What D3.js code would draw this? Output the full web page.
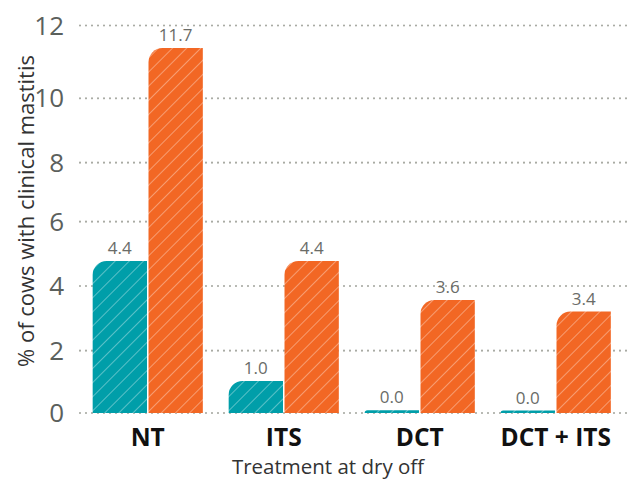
<!DOCTYPE html>
<html>
<head>
<meta charset="utf-8">
<script src="https://cdn.jsdelivr.net/npm/d3@7"></script>
<style>
  html, body { margin: 0; padding: 0; background: #fff; }
  svg { display: block; }
</style>
</head>
<body>
<svg id="chart" width="632" height="480"></svg>
<script>
const categories = ["NT", "ITS", "DCT", "DCT + ITS"];
const seriesNames = ["teal", "orange"];
const tealValues = [4.78, 1.03, 0.09, 0.08];
const orangeValues = [11.38, 4.78, 3.57, 3.21];
const tealLabels = ["4.4", "1.0", "0.0", "0.0"];
const orangeLabels = ["11.7", "4.4", "3.6", "3.4"];
const yTicks = [0, 2, 4, 6, 8, 10, 12];
const yTitle = "% of cows with clinical mastitis";
const xTitle = "Treatment at dry off";

const colors = { teal: "#009ea9", orange: "#f26724" };

const svg = d3.select("#chart");
const font = "'Open Sans', 'Noto Sans', sans-serif";

// hatch patterns
const defs = svg.append("defs");
seriesNames.forEach(s => {
  const p = defs.append("pattern")
    .attr("id", "hatch-" + s)
    .attr("patternUnits", "userSpaceOnUse")
    .attr("width", 10).attr("height", 10)
    .attr("patternTransform", "rotate(45)");
  p.append("rect").attr("width", 10).attr("height", 10).attr("fill", colors[s]);
  p.append("line").attr("x1", 0).attr("y1", 0).attr("x2", 0).attr("y2", 10)
    .attr("stroke", "#ffffff").attr("stroke-opacity", 0.6).attr("stroke-width", 1.2);
});

const y = d3.scaleLinear()
  .domain(yTicks)
  .range([413, 350.7, 286, 221.7, 162.7, 98.3, 25.5]);

const x = d3.scaleBand()
  .domain(categories)
  .range([79.75, 623.75])
  .paddingInner(0.19)
  .paddingOuter(0.095);

const xs = d3.scaleBand()
  .domain(seriesNames)
  .range([0, x.bandwidth()])
  .paddingInner(0.027);

// gridlines
svg.append("g").selectAll("line").data(yTicks).join("line")
  .attr("x1", 80).attr("x2", 630)
  .attr("y1", d => y(d)).attr("y2", d => y(d))
  .attr("stroke", "#a9aba4")
  .attr("stroke-width", 2.2)
  .attr("stroke-linecap", "round")
  .attr("stroke-dasharray", "0,6");

// y tick labels
svg.append("g").selectAll("text").data(yTicks).join("text")
  .attr("x", 64).attr("y", d => y(d))
  .attr("dy", "0.35em")
  .attr("text-anchor", "end")
  .attr("font-family", font)
  .attr("font-size", 26)
  .attr("fill", "#5b605c")
  .text(d => d);

// bars
function barPath(x0, w, top, bottom) {
  const h = bottom - top;
  const r = Math.min(14, h, w);
  return `M${x0},${bottom}L${x0},${top + r}A${r},${r} 0 0 1 ${x0 + r},${top}L${x0 + w},${top}L${x0 + w},${bottom}Z`;
}

const rows = categories.map((c, i) => ({
  cat: c,
  bars: [
    { s: "teal", v: tealValues[i], label: tealLabels[i] },
    { s: "orange", v: orangeValues[i], label: orangeLabels[i] }
  ]
}));

const groups = svg.append("g").selectAll("g").data(rows).join("g")
  .attr("transform", d => `translate(${x(d.cat)},0)`);

groups.selectAll("path").data(d => d.bars).join("path")
  .attr("d", d => barPath(xs(d.s), xs.bandwidth(), y(d.v), y(0)))
  .attr("fill", d => `url(#hatch-${d.s})`);

groups.selectAll("text").data(d => d.bars).join("text")
  .attr("x", d => xs(d.s) + xs.bandwidth() / 2)
  .attr("y", d => y(d.v) - 7)
  .attr("text-anchor", "middle")
  .attr("font-family", font)
  .attr("font-size", 17)
  .attr("fill", "#6a6c68")
  .text(d => d.label);

// category labels
svg.append("g").selectAll("text").data(categories).join("text")
  .attr("x", d => x(d) + x.bandwidth() / 2)
  .attr("y", 446)
  .attr("text-anchor", "middle")
  .attr("font-family", font)
  .attr("font-weight", 700)
  .attr("font-size", 24.5)
  .attr("fill", "#111")
  .text(d => d);

// axis titles
svg.append("text")
  .attr("x", 328).attr("y", 474)
  .attr("text-anchor", "middle")
  .attr("font-family", font)
  .attr("font-size", 20.5)
  .attr("fill", "#333")
  .text(xTitle);

svg.append("text")
  .attr("transform", "translate(34,211) rotate(-90)")
  .attr("text-anchor", "middle")
  .attr("font-family", font)
  .attr("font-size", 22)
  .attr("fill", "#333")
  .text(yTitle);
</script>
</body>
</html>
